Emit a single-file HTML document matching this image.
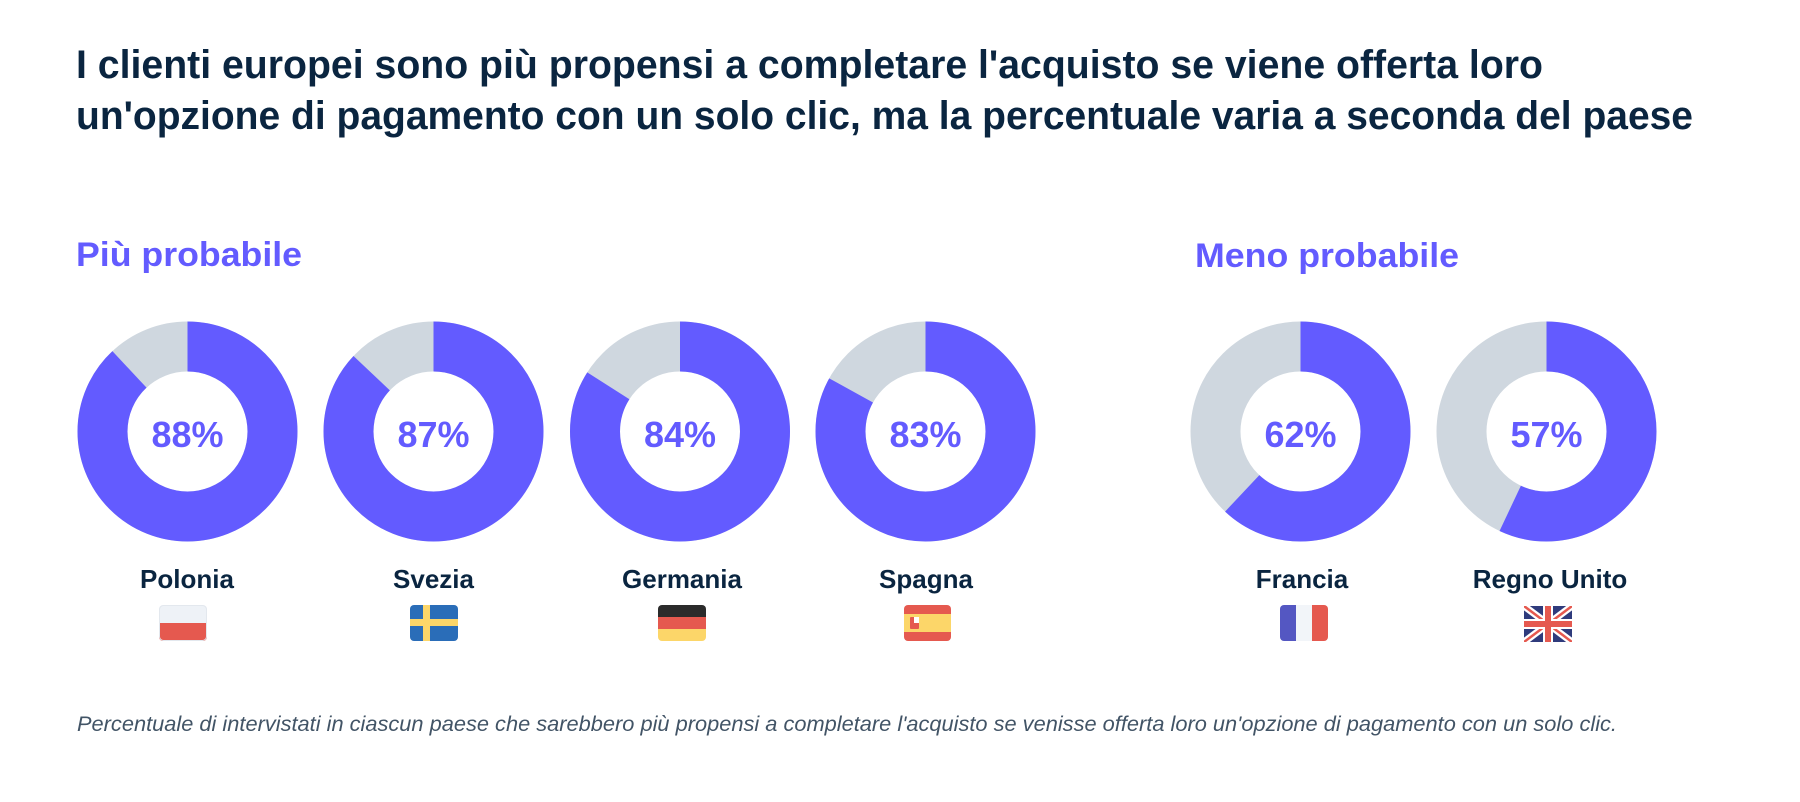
<!DOCTYPE html>
<html>
<head>
<meta charset="utf-8">
<style>
  html, body { margin:0; padding:0; background:#ffffff; }
  svg { display:block; }
  .title { font-family:"Liberation Sans", sans-serif; font-weight:bold; font-size:40px; fill:#0a2540; }
  .sec { font-family:"Liberation Sans", sans-serif; font-weight:bold; font-size:34px; fill:#635bff; }
  .pct { font-family:"Liberation Sans", sans-serif; font-weight:bold; font-size:36px; fill:#635bff; }
  .lbl { font-family:"Liberation Sans", sans-serif; font-weight:bold; font-size:26px; fill:#0a2540; }
  .foot { font-family:"Liberation Sans", sans-serif; font-style:italic; font-size:21px; fill:#425466; }
</style>
</head>
<body>
<svg width="1800" height="802" viewBox="0 0 1800 802" xmlns="http://www.w3.org/2000/svg">
  <rect width="1800" height="802" fill="#ffffff"/>

  <text class="title" x="76" y="78" textLength="1467" lengthAdjust="spacingAndGlyphs">I clienti europei sono più propensi a completare l'acquisto se viene offerta loro</text>
  <text class="title" x="76" y="129" textLength="1617" lengthAdjust="spacingAndGlyphs">un'opzione di pagamento con un solo clic, ma la percentuale varia a seconda del paese</text>

  <text class="sec" x="76" y="266" textLength="226" lengthAdjust="spacingAndGlyphs">Più probabile</text>
  <text class="sec" x="1195" y="267" textLength="264" lengthAdjust="spacingAndGlyphs">Meno probabile</text>

  <!-- Donuts: r=85, stroke 50 ; circumference 534.07 -->
  <g fill="none" stroke-width="50">
    <!-- Polonia 88% -->
    <circle cx="187.5" cy="431.5" r="85" stroke="#cfd7df"/>
    <circle cx="187.5" cy="431.5" r="85" stroke="#635bff" stroke-dasharray="469.98 534.07" transform="rotate(-90 187.5 431.5)"/>
    <!-- Svezia 87% -->
    <circle cx="433.5" cy="431.5" r="85" stroke="#cfd7df"/>
    <circle cx="433.5" cy="431.5" r="85" stroke="#635bff" stroke-dasharray="464.64 534.07" transform="rotate(-90 433.5 431.5)"/>
    <!-- Germania 84% -->
    <circle cx="680" cy="431.5" r="85" stroke="#cfd7df"/>
    <circle cx="680" cy="431.5" r="85" stroke="#635bff" stroke-dasharray="448.62 534.07" transform="rotate(-90 680 431.5)"/>
    <!-- Spagna 83% -->
    <circle cx="925.5" cy="431.5" r="85" stroke="#cfd7df"/>
    <circle cx="925.5" cy="431.5" r="85" stroke="#635bff" stroke-dasharray="443.28 534.07" transform="rotate(-90 925.5 431.5)"/>
    <!-- Francia 62% -->
    <circle cx="1300.5" cy="431.5" r="85" stroke="#cfd7df"/>
    <circle cx="1300.5" cy="431.5" r="85" stroke="#635bff" stroke-dasharray="331.12 534.07" transform="rotate(-90 1300.5 431.5)"/>
    <!-- Regno Unito 57% -->
    <circle cx="1546.5" cy="431.5" r="85" stroke="#cfd7df"/>
    <circle cx="1546.5" cy="431.5" r="85" stroke="#635bff" stroke-dasharray="304.42 534.07" transform="rotate(-90 1546.5 431.5)"/>
  </g>

  <g text-anchor="middle">
    <text class="pct" x="187.5" y="447">88%</text>
    <text class="pct" x="433.5" y="447">87%</text>
    <text class="pct" x="680" y="447">84%</text>
    <text class="pct" x="925.5" y="447">83%</text>
    <text class="pct" x="1300.5" y="447">62%</text>
    <text class="pct" x="1546.5" y="447">57%</text>

    <text class="lbl" x="187" y="588">Polonia</text>
    <text class="lbl" x="433.5" y="588">Svezia</text>
    <text class="lbl" x="682" y="588">Germania</text>
    <text class="lbl" x="926" y="588">Spagna</text>
    <text class="lbl" x="1302" y="588">Francia</text>
    <text class="lbl" x="1550" y="588">Regno Unito</text>
  </g>

  <!-- Flags -->
  <defs>
    <clipPath id="cPL"><rect x="159" y="605" width="48" height="36" rx="4"/></clipPath>
    <clipPath id="cSE"><rect x="410" y="605" width="48" height="36" rx="4"/></clipPath>
    <clipPath id="cDE"><rect x="658" y="605" width="48" height="36" rx="4"/></clipPath>
    <clipPath id="cES"><rect x="904" y="605" width="47" height="36" rx="4"/></clipPath>
    <clipPath id="cFR"><rect x="1280" y="605" width="48" height="36" rx="4"/></clipPath>
    <clipPath id="cUK"><rect x="1524" y="606" width="48" height="36"/></clipPath>
  </defs>

  <!-- Poland -->
  <g clip-path="url(#cPL)">
    <rect x="159" y="605" width="48" height="18" fill="#eef2f7"/>
    <rect x="159" y="623" width="48" height="18" fill="#e5594f"/>
  </g>
  <rect x="159.5" y="605.5" width="47" height="35" rx="4" fill="none" stroke="#e3e8ee" stroke-width="1"/>

  <!-- Sweden -->
  <g clip-path="url(#cSE)">
    <rect x="410" y="605" width="48" height="36" fill="#2a6db8"/>
    <rect x="423" y="605" width="7" height="36" fill="#fcd669"/>
    <rect x="410" y="619" width="48" height="7" fill="#fcd669"/>
  </g>

  <!-- Germany -->
  <g clip-path="url(#cDE)">
    <rect x="658" y="605" width="48" height="12" fill="#2b2b2b"/>
    <rect x="658" y="617" width="48" height="12" fill="#e5594f"/>
    <rect x="658" y="629" width="48" height="12" fill="#fcd669"/>
  </g>

  <!-- Spain -->
  <g clip-path="url(#cES)">
    <rect x="904" y="605" width="47" height="36" fill="#e5594f"/>
    <rect x="904" y="614" width="47" height="18" fill="#fcd669"/>
    <rect x="910" y="617" width="9" height="12" rx="1" fill="#e5594f"/>
    <rect x="914" y="617" width="5" height="6" fill="#ffffff"/>
  </g>

  <!-- France -->
  <g clip-path="url(#cFR)">
    <rect x="1280" y="605" width="16" height="36" fill="#5457c2"/>
    <rect x="1296" y="605" width="16" height="36" fill="#f2f5f9"/>
    <rect x="1312" y="605" width="16" height="36" fill="#e5594f"/>
  </g>

  <!-- UK -->
  <g clip-path="url(#cUK)">
    <rect x="1524" y="606" width="48" height="36" fill="#2f3b7c"/>
    <line x1="1524" y1="606" x2="1572" y2="642" stroke="#ffffff" stroke-width="7"/>
    <line x1="1572" y1="606" x2="1524" y2="642" stroke="#ffffff" stroke-width="7"/>
    <line x1="1524" y1="606" x2="1572" y2="642" stroke="#e5594f" stroke-width="2.5"/>
    <line x1="1572" y1="606" x2="1524" y2="642" stroke="#e5594f" stroke-width="2.5"/>
    <rect x="1543" y="606" width="10" height="36" fill="#ffffff"/>
    <rect x="1524" y="619" width="48" height="10" fill="#ffffff"/>
    <rect x="1545" y="606" width="6" height="36" fill="#e5594f"/>
    <rect x="1524" y="621" width="48" height="6" fill="#e5594f"/>
  </g>

  <text class="foot" x="77" y="731" textLength="1540" lengthAdjust="spacingAndGlyphs">Percentuale di intervistati in ciascun paese che sarebbero più propensi a completare l'acquisto se venisse offerta loro un'opzione di pagamento con un solo clic.</text>
</svg>
</body>
</html>
